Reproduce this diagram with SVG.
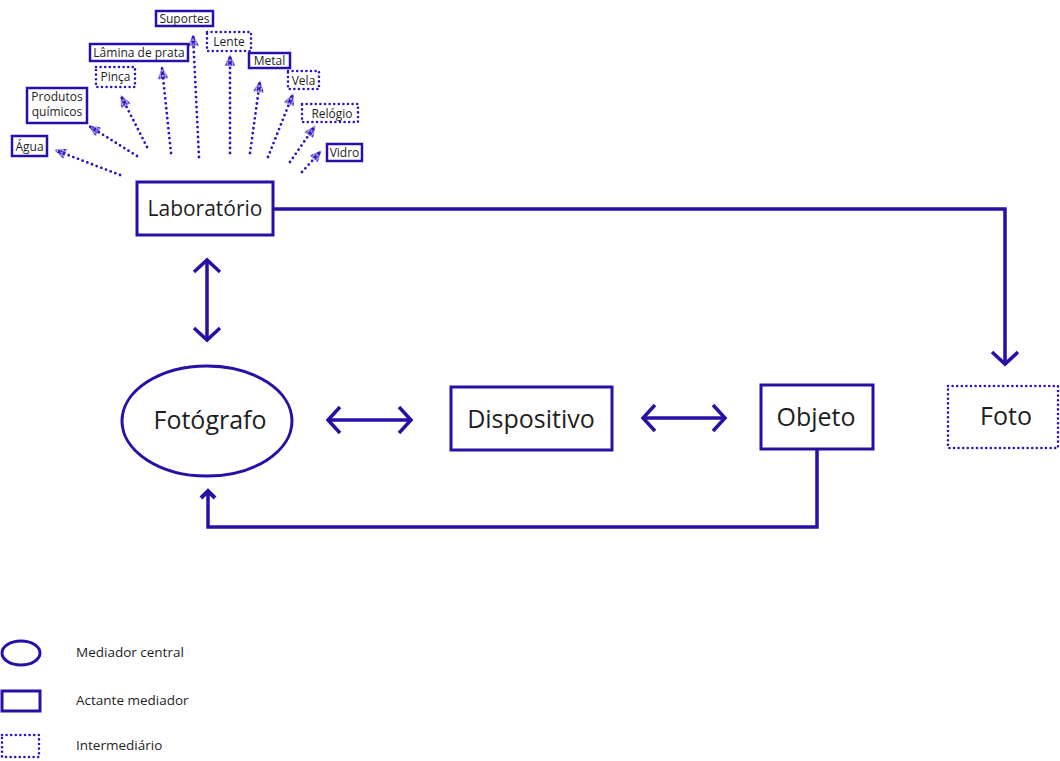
<svg xmlns="http://www.w3.org/2000/svg" width="1060" height="761" viewBox="0 0 1060 761">
<style>
.solid{fill:#fff;stroke:#2a0fa6;stroke-width:3}
.dot{fill:#fff;stroke:#2a14c0;stroke-width:2.6;stroke-dasharray:0 4.6;stroke-linecap:round}
.conn{fill:none;stroke:#2a0fa6;stroke-width:3.5}
.dconn{fill:none;stroke:#2a14c0;stroke-width:2.8;stroke-dasharray:0 5;stroke-linecap:round}
.t{font-family:"Open Sans","Liberation Sans",sans-serif;fill:#1e1e1e;text-anchor:middle}
.sm{font-size:12px}
.lg{font-family:"Open Sans","Liberation Sans",sans-serif;fill:#1e1e1e;font-size:13.5px}
</style>
<defs>
<marker id="chev" markerUnits="userSpaceOnUse" viewBox="-16 -16 32 32" markerWidth="32" markerHeight="32" refX="0" refY="0" orient="auto-start-reverse">
<path d="M -12 -13 L 0 0 L -12 13" fill="none" stroke="#2a0fa6" stroke-width="3.5"/>
</marker>
<marker id="chevs" markerUnits="userSpaceOnUse" viewBox="-10 -10 20 20" markerWidth="20" markerHeight="20" refX="0" refY="0" orient="auto">
<path d="M -7 -7 L 0 0 L -7 7" fill="none" stroke="#2a0fa6" stroke-width="4"/>
</marker>
<pattern id="dots" width="2.6" height="2.6" patternUnits="userSpaceOnUse">
<circle cx="1.3" cy="1.3" r="1.15" fill="#2a14c0"/>
</pattern>
<marker id="dtri" markerUnits="userSpaceOnUse" viewBox="-13 -8 15 16" markerWidth="15" markerHeight="16" refX="0" refY="0" orient="auto">
<path d="M 1 0 L -11 -5.5 L -11 5.5 Z" fill="url(#dots)"/>
</marker>
</defs>

<g id="connectors">
<line class="conn" x1="207" y1="260" x2="207" y2="340" marker-start="url(#chev)" marker-end="url(#chev)"/>
<line class="conn" x1="328" y1="420" x2="411" y2="420" marker-start="url(#chev)" marker-end="url(#chev)"/>
<line class="conn" x1="643" y1="418" x2="725" y2="418" marker-start="url(#chev)" marker-end="url(#chev)"/>
<polyline class="conn" points="273,209 1005,209 1005,364" marker-end="url(#chev)"/>
<polyline class="conn" points="817,449 817,527 208,527 208,491" marker-end="url(#chevs)"/>
<line class="dconn" x1="120" y1="175" x2="55" y2="150" marker-end="url(#dtri)"/>
<line class="dconn" x1="137" y1="156" x2="89" y2="126" marker-end="url(#dtri)"/>
<line class="dconn" x1="147" y1="147" x2="121" y2="96" marker-end="url(#dtri)"/>
<line class="dconn" x1="171" y1="153" x2="162" y2="68" marker-end="url(#dtri)"/>
<line class="dconn" x1="199" y1="157" x2="193" y2="35" marker-end="url(#dtri)"/>
<line class="dconn" x1="230" y1="153" x2="230" y2="55" marker-end="url(#dtri)"/>
<line class="dconn" x1="250" y1="153" x2="260" y2="81" marker-end="url(#dtri)"/>
<line class="dconn" x1="268" y1="157" x2="293" y2="94" marker-end="url(#dtri)"/>
<line class="dconn" x1="290" y1="162" x2="315" y2="126" marker-end="url(#dtri)"/>
<line class="dconn" x1="302" y1="172" x2="321" y2="151" marker-end="url(#dtri)"/>
</g>

<g id="laboratorio">
<rect class="solid" x="137" y="182" width="136" height="53"/>
<text class="t" x="205" y="216" style="font-size:21px">Laboratório</text>
</g>
<g id="fotografo">
<ellipse class="solid" cx="207" cy="421" rx="85" ry="55"/>
<text class="t" x="210" y="429" style="font-size:25px">Fotógrafo</text>
</g>
<g id="dispositivo">
<rect class="solid" x="451" y="387" width="161" height="63"/>
<text class="t" x="531" y="428" style="font-size:25px">Dispositivo</text>
</g>
<g id="objeto">
<rect class="solid" x="761" y="385" width="112" height="64"/>
<text class="t" x="816" y="426" style="font-size:25px">Objeto</text>
</g>
<g id="foto">
<rect class="dot" x="948" y="386" width="110" height="62"/>
<text class="t" x="1006" y="425" style="font-size:25px">Foto</text>
</g>

<g id="agua"><rect class="solid" x="12" y="136" width="35" height="20" style="stroke-width:2.5"/><text class="t sm" x="29.5" y="150.5">Água</text></g>
<g id="produtos"><rect class="solid" x="27" y="88" width="60" height="35" style="stroke-width:2.5"/><text class="t sm" x="57" y="101">Produtos</text><text class="t sm" x="57" y="116">químicos</text></g>
<g id="pinca"><rect class="dot" x="96" y="67" width="39" height="20"/><text class="t sm" x="115.5" y="81">Pinça</text></g>
<g id="lamina"><rect class="solid" x="90" y="44" width="98" height="17" style="stroke-width:2.5"/><text class="t sm" x="139" y="57">Lâmina de prata</text></g>
<g id="suportes"><rect class="solid" x="156" y="11" width="57" height="15" style="stroke-width:2.5"/><text class="t sm" x="184.5" y="23">Suportes</text></g>
<g id="lente"><rect class="dot" x="207" y="32" width="44" height="19"/><text class="t sm" x="229" y="46">Lente</text></g>
<g id="metal"><rect class="solid" x="249" y="53" width="41" height="15" style="stroke-width:2.5"/><text class="t sm" x="269.5" y="65">Metal</text></g>
<g id="vela"><rect class="dot" x="288" y="71" width="31" height="18"/><text class="t sm" x="303.5" y="84.5">Vela</text></g>
<g id="relogio"><rect class="dot" x="302" y="104" width="56" height="18"/><text class="t sm" x="332" y="117.5">Relógio</text></g>
<g id="vidro"><rect class="solid" x="327" y="144" width="35" height="17" style="stroke-width:2.5"/><text class="t sm" x="344.5" y="157">Vidro</text></g>

<g id="legend">
<ellipse class="solid" cx="21" cy="653" rx="19" ry="12"/>
<text class="lg" x="76" y="657">Mediador central</text>
<rect class="solid" x="2" y="691" width="38" height="20"/>
<text class="lg" x="76" y="705">Actante mediador</text>
<rect class="dot" x="2" y="735" width="37" height="22"/>
<text class="lg" x="76" y="750">Intermediário</text>
</g>
</svg>
